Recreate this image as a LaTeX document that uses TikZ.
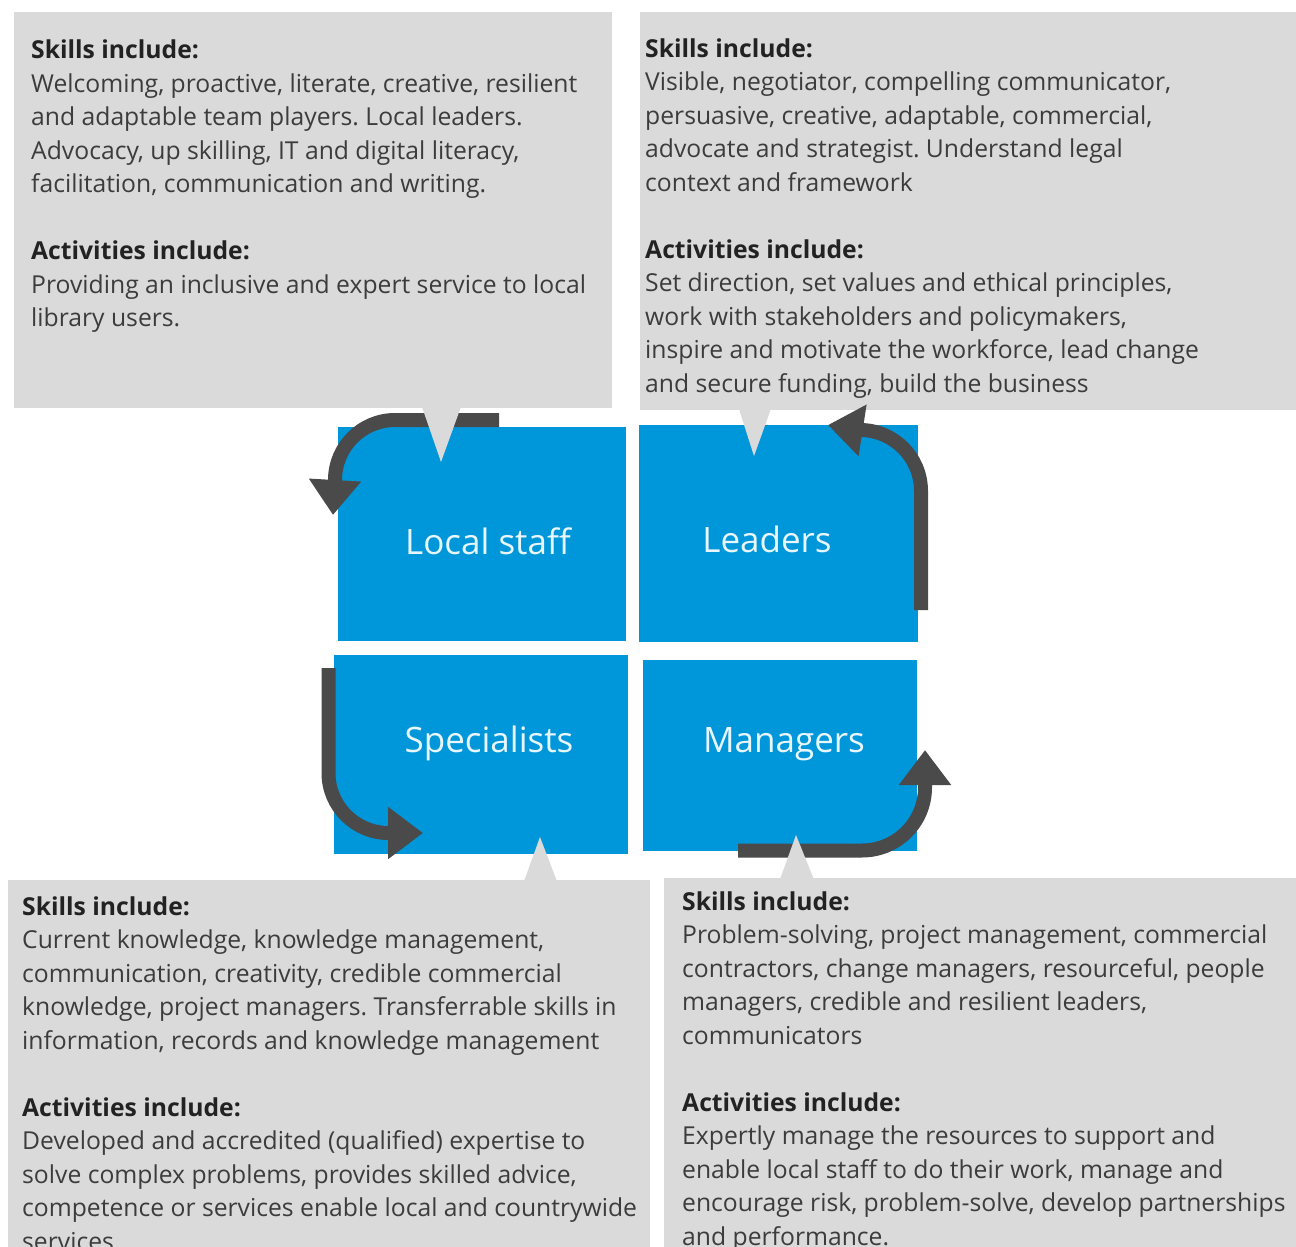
\documentclass[tikz,border=0pt]{standalone}
\usepackage{fontspec}
\setmainfont{Open Sans}
\usepackage{tikz}
\usetikzlibrary{arrows.meta,calc}
\definecolor{panelgray}{RGB}{218,218,218}
\definecolor{tileblue}{RGB}{0,150,218}
\definecolor{cyclegray}{RGB}{74,74,74}
\definecolor{bodygray}{RGB}{60,60,60}
\definecolor{headgray}{RGB}{34,34,34}
\definecolor{tagwhite}{RGB}{232,246,253}
\newcommand{\head}[1]{\strut{\bfseries\color{headgray}#1}}
\frenchspacing

\begin{document}
\begin{tikzpicture}[x=1pt,y=1pt]
\tikzstyle{panel}=[rectangle, fill=panelgray, inner sep=0, anchor=north west]
\tikzstyle{tile}=[rectangle, fill=tileblue, inner sep=0]
\tikzstyle{tag}=[anchor=base, text=tagwhite, font=\fontsize{35}{42}\selectfont]
\tikzstyle{info}=[anchor=north west, inner sep=0, align=left, text=bodygray, font=\fontsize{24.7}{33.5}\selectfont]
\tikzstyle{pointer}=[fill=panelgray]
\tikzstyle{cycle}=[line width=14pt, draw=cyclegray, -{Triangle[length=35pt, width=50pt]}]

  \useasboundingbox (0,0) rectangle (1296,-1247);
  \clip (0,0) rectangle (1296,-1247);

  \node[panel, minimum width=598pt, minimum height=396pt] (lspanel) at (14,-12)  {};
  \node[panel, minimum width=656pt, minimum height=398pt] (ldpanel) at (640,-12) {};
  \node[panel, minimum width=642pt, minimum height=380pt] (sppanel) at (8,-880)  {};
  \node[panel, minimum width=632pt, minimum height=380pt] (mgpanel) at (664,-878) {};

  \node[info] (lsinfo) at ([xshift=17pt, yshift=-23pt]lspanel.north west) {\head{Skills include:}\\
    Welcoming, proactive, literate, creative, resilient\\
    and adaptable team players. Local leaders.\\
    Advocacy, up skilling, IT and digital literacy,\\
    facilitation, communication and writing.\\[33.5pt]
    \head{Activities include:}\\
    Providing an inclusive and expert service to local\\
    library users.};
  \node[info] (ldinfo) at ([xshift=5pt, yshift=-21.5pt]ldpanel.north west) {\head{Skills include:}\\
    Visible, negotiator, compelling communicator,\\
    persuasive, creative, adaptable, commercial,\\
    advocate and strategist. Understand legal\\
    context and framework\\[33.5pt]
    \head{Activities include:}\\
    Set direction, set values and ethical principles,\\
    work with stakeholders and policymakers,\\
    inspire and motivate the workforce, lead change\\
    and secure funding, build the business};
  \node[info] (spinfo) at ([xshift=14pt, yshift=-11.5pt]sppanel.north west) {\head{Skills include:}\\
    Current knowledge, knowledge management,\\
    communication, creativity, credible commercial\\
    knowledge, project managers. Transferrable skills in\\
    information, records and knowledge management\\[33.5pt]
    \head{Activities include:}\\
    Developed and accredited (qualified) expertise to\\
    solve complex problems, provides skilled advice,\\
    competence or services enable local and countrywide\\
    services};
  \node[info] (mginfo) at ([xshift=18pt, yshift=-8.5pt]mgpanel.north west) {\head{Skills include:}\\
    Problem-solving, project management, commercial\\
    contractors, change managers, resourceful, people\\
    managers, credible and resilient leaders,\\
    communicators\\[33.5pt]
    \head{Activities include:}\\
    Expertly manage the resources to support and\\
    enable local staff to do their work, manage and\\
    encourage risk, problem-solve, develop partnerships\\
    and performance.};

  \node[tile, minimum width=288pt, minimum height=214pt] (lstile) at (482,-534)     {};
  \node[tile, minimum width=279pt, minimum height=217pt] (ldtile) at (778.5,-533.5) {};
  \node[tile, minimum width=294pt, minimum height=199pt] (sptile) at (481,-754.5)   {};
  \node[tile, minimum width=274pt, minimum height=191pt] (mgtile) at (780,-755.5)   {};

  \node[tag] (lstag) at (488,-554) {Local staff};
  \node[tag] (ldtag) at (767,-552) {Leaders};
  \node[tag] (sptag) at (489,-752) {Specialists};
  \node[tag] (mgtag) at (784,-752) {Managers};

  \draw[cycle] (499,-420) -- (395,-420) arc[start angle=90, end angle=180, radius=60] -- (333,-515);
  \draw[cycle] (921,-610) -- (921,-491) arc[start angle=0, end angle=90, radius=61] -- (828,-425);
  \draw[cycle] (328.5,-668) -- (328.5,-773) arc[start angle=180, end angle=270, radius=60] -- (423,-833);
  \draw[cycle] (738,-850.5) -- (862,-850.5) arc[start angle=270, end angle=360, radius=63] -- (925,-750);

  \fill[pointer] (421,-404) -- (462,-404) -- (441,-462) -- cycle;
  \fill[pointer] (738,-406) -- (772,-406) -- (754,-456) -- cycle;
  \fill[pointer] (523,-884) -- (558,-884) -- (540,-837) -- cycle;
  \fill[pointer] (779,-882) -- (815,-882) -- (796,-835) -- cycle;

\end{tikzpicture}
\end{document}
